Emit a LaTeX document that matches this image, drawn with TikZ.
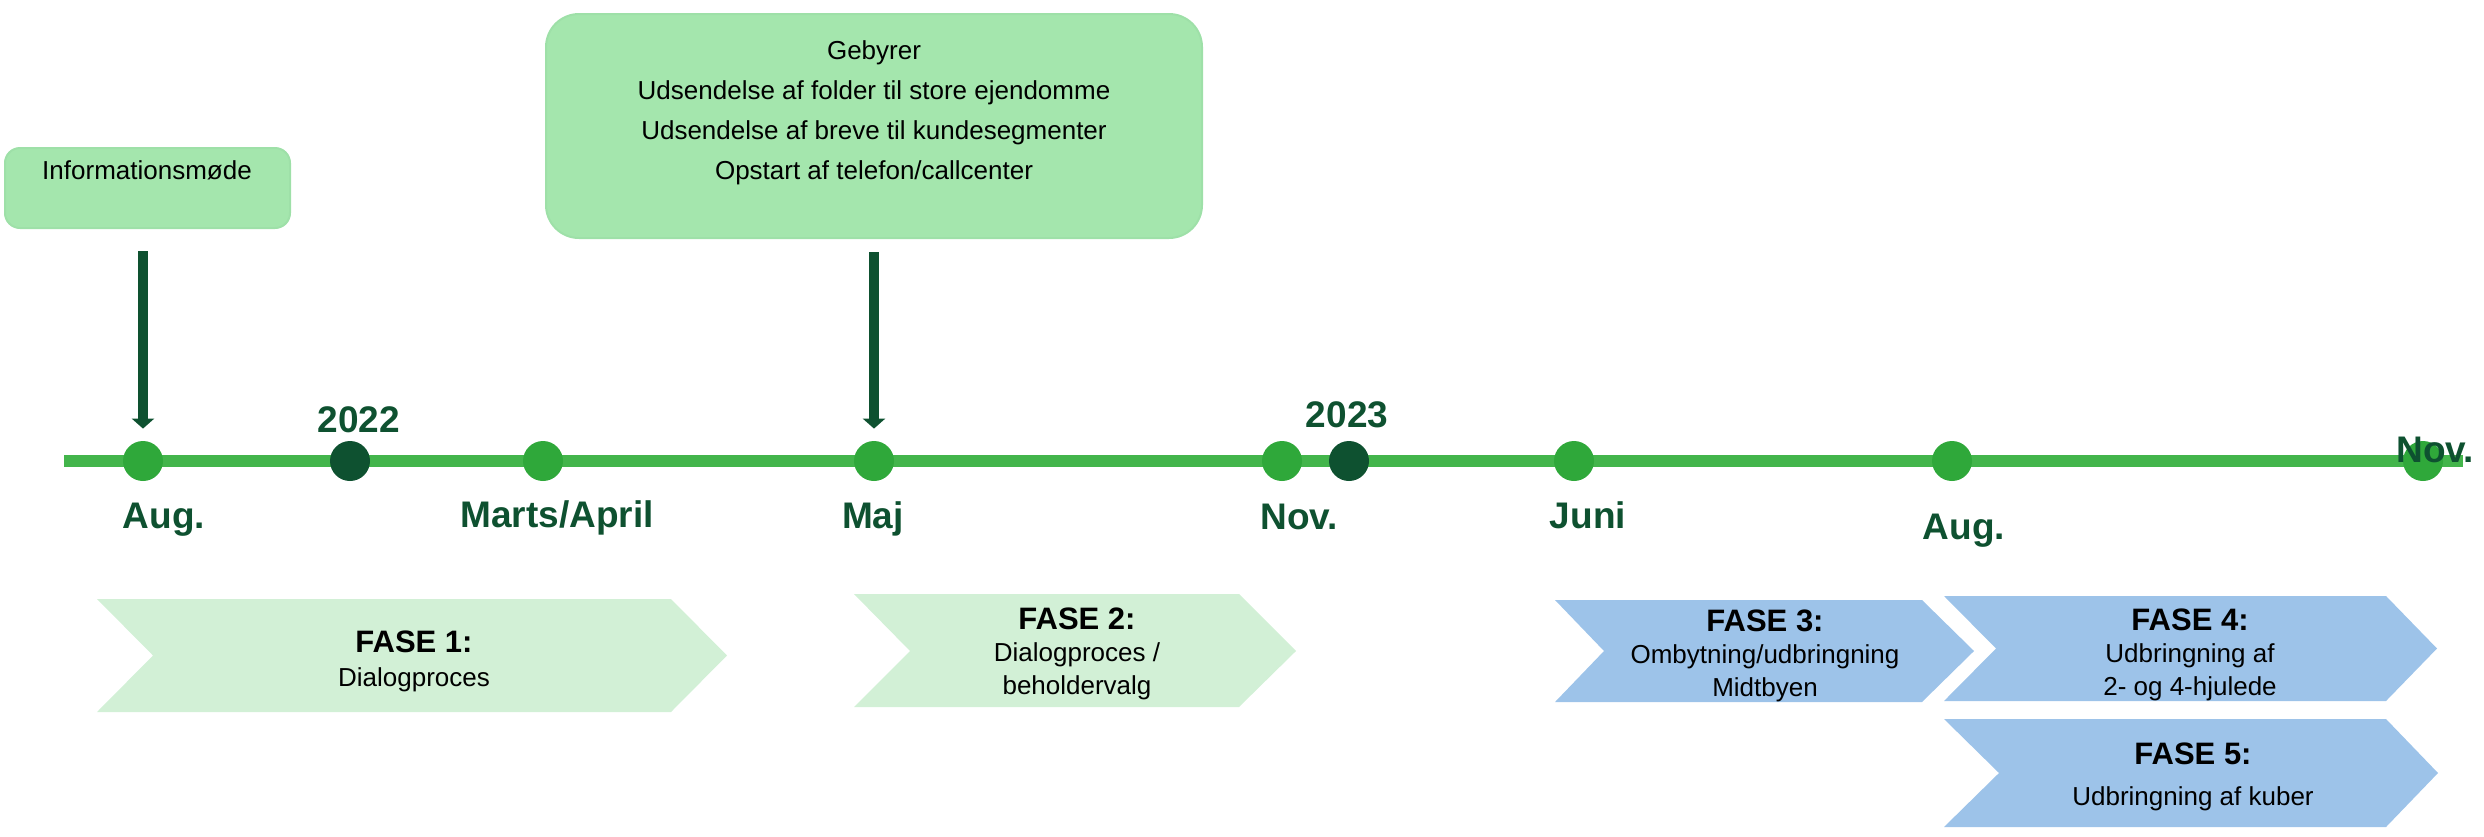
\documentclass[tikz,border=0pt]{standalone}
\usepackage{fontspec}
\setmainfont{Liberation Sans}
\usetikzlibrary{arrows.meta}
\definecolor{linegreen}{HTML}{43B54B}
\definecolor{dotgreen}{HTML}{2FA83A}
\definecolor{darkgreen}{HTML}{0E5130}
\definecolor{boxgreen}{HTML}{A4E6AD}
\definecolor{boxedge}{HTML}{9EE0A8}
\definecolor{chevgreen}{HTML}{D2F0D6}
\definecolor{chevblue}{HTML}{9DC3E9}
\begin{document}
\begin{tikzpicture}[x=0.5pt,y=-0.5pt,
  dotnode/.style={circle,fill=dotgreen,inner sep=0pt,minimum size=20pt},
  yeardot/.style={circle,fill=darkgreen,inner sep=0pt,minimum size=20pt},
  datelabel/.style={anchor=base,inner sep=0pt,text=darkgreen,font=\fontsize{18.5}{22}\selectfont\bfseries},
  gbox/.style={draw=boxedge,line width=1pt,fill=boxgreen,inner sep=0pt},
  bodytext/.style={inner sep=0pt,align=center,text=black},
  fasetext/.style={anchor=north,inner sep=0pt,align=center,text=black,font=\fontsize{13}{16.3}\selectfont},
  arr/.style={darkgreen,line width=5.4pt,-{Triangle[width=11pt,length=5pt]}},
  timeline/.style={linegreen,line width=6pt}
]
\useasboundingbox (0,0) rectangle (2484,836);

% top boxes
\node[gbox,rounded corners=7.5pt,minimum width=142.5pt,minimum height=40pt] (infobox) at (147.5,188) {};
\node[bodytext,anchor=base,font=\fontsize{13}{16}\selectfont] (infotext) at (147,179) {Informationsmøde};

\node[gbox,rounded corners=16.5pt,minimum width=328pt,minimum height=112pt] (bigbox) at (874,126) {};
\node[bodytext,anchor=north,font=\fontsize{13}{20}\selectfont] (bigtext) at (874,40)
  {Gebyrer\\Udsendelse af folder til store ejendomme\\Udsendelse af breve til kundesegmenter\\Opstart af telefon/callcenter};

% timeline
\coordinate (tlstart) at (64,461);
\coordinate (tlend) at (2463,461);
\draw[timeline] (tlstart) -- (tlend);

\node[dotnode] (aug1) at (143,461) {};
\node[yeardot] (y2022) at (350,461) {};
\node[dotnode] (marts) at (543,461) {};
\node[dotnode] (maj) at (874,461) {};
\node[dotnode] (nov1) at (1282,461) {};
\node[yeardot] (y2023) at (1349,461) {};
\node[dotnode] (juni) at (1574,461) {};
\node[dotnode] (aug2) at (1952,461) {};
\node[dotnode] (nov2) at (2423,461) {};

% arrows
\coordinate (a1s) at ([yshift=-11pt]infobox.south);
\coordinate (a2s) at ([yshift=-6.5pt]bigbox.south);
\draw[arr] (a1s -| aug1) -- ([yshift=6pt]aug1.north);
\draw[arr] (a2s -| maj) -- ([yshift=6pt]maj.north);

% labels
\node[datelabel] at (164,528) {Aug.};
\node[datelabel] at (359,432) {2022};
\node[datelabel] at (557,527) {Marts/April};
\node[datelabel] at (873,528) {Maj};
\node[datelabel] at (1299,529) {Nov.};
\node[datelabel] at (1347,427) {2023};
\node[datelabel] at (1588,528) {Juni};
\node[datelabel] at (1964,539) {Aug.};
\node[datelabel] at (2435,462) {Nov.};

% chevrons
\fill[chevgreen] (97,599) -- (671,599) -- (727,655.5) -- (671,712) -- (97,712) -- (153,655.5) -- cycle;
\fill[chevgreen] (854,594) -- (1239,594) -- (1296,651) -- (1239,707) -- (854,707) -- (910,651) -- cycle;
\fill[chevblue] (1555,600) -- (1922,600) -- (1974,651) -- (1922,702) -- (1555,702) -- (1604,651) -- cycle;
\fill[chevblue] (1944,596) -- (2386,596) -- (2437,648.5) -- (2386,701) -- (1944,701) -- (1996,648.5) -- cycle;
\fill[chevblue] (1944,719) -- (2386,719) -- (2438,773) -- (2386,827) -- (1944,827) -- (1999,773) -- cycle;

\node[fasetext,font=\fontsize{13}{17}\selectfont] (fase1) at (414,630)
  {{\fontsize{15.5}{17}\selectfont\bfseries FASE 1:}\\Dialogproces};
\node[fasetext] (fase2) at (1077,607)
  {{\fontsize{15.5}{17}\selectfont\bfseries FASE 2:}\\Dialogproces /\\beholdervalg};
\node[fasetext] (fase3) at (1765,609)
  {{\fontsize{15.5}{17}\selectfont\bfseries FASE 3:}\\Ombytning/udbringning\\Midtbyen};
\node[fasetext] (fase4) at (2190,608)
  {{\fontsize{15.5}{17}\selectfont\bfseries FASE 4:}\\Udbringning af\\2- og 4-hjulede};
\node[fasetext,font=\fontsize{13}{20.5}\selectfont] (fase5) at (2193,742)
  {{\fontsize{15.5}{17}\selectfont\bfseries FASE 5:}\\Udbringning af kuber};
\end{tikzpicture}
\end{document}
